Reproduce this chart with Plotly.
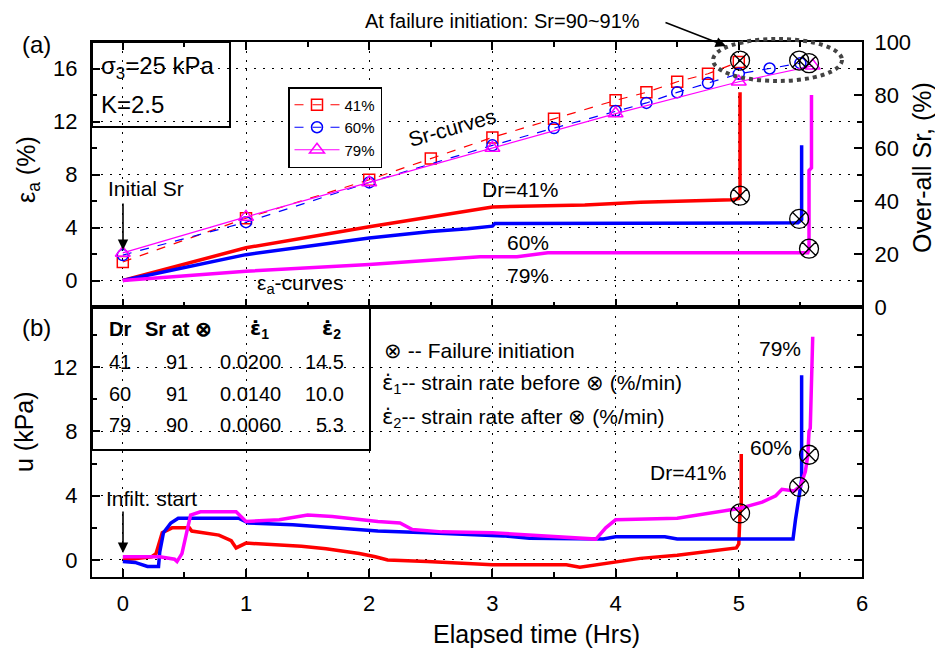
import plotly.graph_objects as go

# page body adds an 8px offset; lay out in screen pixels and compensate
OFF = 8
SW, SH = 943, 653
W, H = SW - OFF, SH - OFF
def px(x): return (x - OFF) / W
def py(y): return 1 - (y - OFF) / H

# ---------------- data ----------------
# Sr curves (right axis, %)
t_sr41 = [0, 1, 2, 2.5, 3, 3.5, 4, 4.25, 4.5, 4.75, 5.0]
sr41 = [17, 33.5, 48, 56, 64, 71, 78, 81, 85, 88, 92.5]
t_sr60 = [0, 1, 2, 3, 3.5, 4, 4.25, 4.5, 4.75, 5.0, 5.25, 5.5]
sr60 = [19.6, 32, 47, 61, 67.5, 74, 77, 81, 84.5, 88, 90, 92]
t_sr79 = [0, 1, 2, 3, 4, 5, 5.6]
sr79 = [20.4, 34, 47, 60, 73, 85, 91]

# axial strain curves (left axis, %)
t_ea41 = [0, 1, 2, 2.5, 2.82, 3.0, 3.75, 4.2, 4.95, 5.0, 5.01, 5.01]
ea41 = [0, 2.47, 4.05, 4.8, 5.3, 5.55, 5.7, 5.9, 6.1, 6.2, 6.4, 14.2]
t_ea60 = [0, 1, 2, 2.5, 2.8, 3.0, 3.02, 5.48, 5.51, 5.51]
ea60 = [0, 1.95, 3.2, 3.7, 3.9, 4.1, 4.3, 4.35, 4.6, 10.2]
t_ea79 = [0, 1, 2, 2.8, 2.9, 3.2, 3.45, 5.56, 5.57, 5.57, 5.59, 5.59]
ea79 = [0, 0.7, 1.2, 1.7, 1.8, 1.8, 2.1, 2.1, 2.4, 8.3, 8.5, 14.0]

# failure initiation points
fail_t = [5.01, 5.49, 5.57]
fail_sr = [93, 93, 92]
fail_ea = [6.4, 4.65, 2.4]
fail_u = [2.9, 4.55, 6.55]

# pore pressure u (kPa)
t_u41 = [0, 0.1, 0.235, 0.27, 0.29, 0.32, 0.4, 0.54, 0.56, 0.78, 0.88, 0.92, 1.0, 1.27,
         1.45, 1.65, 1.8, 1.92, 2.05, 2.15, 2.47, 2.8, 3.0, 3.3, 3.6, 3.71, 3.85, 4.0,
         4.2, 4.5, 4.75, 4.98, 5.0, 5.01, 5.02, 5.02]
u41 = [0.0, 0.1, 0.2, 0.4, 1.0, 1.7, 2.0, 2.0, 1.8, 1.55, 1.2, 0.75, 1.05, 0.95,
       0.85, 0.7, 0.55, 0.4, 0.2, 0.0, -0.1, -0.25, -0.3, -0.3, -0.3, -0.45, -0.3, -0.1,
       0.1, 0.3, 0.55, 0.75, 1.0, 2.9, 3.3, 6.6]
t_u60 = [0, 0.1, 0.2, 0.29, 0.3, 0.33, 0.39, 0.45, 0.94, 1.02, 1.38, 1.7, 2.07, 2.47,
         3.09, 3.3, 3.9, 4.0, 4.4, 4.5, 5.0, 5.44, 5.46, 5.49, 5.5, 5.51, 5.51]
u60 = [-0.1, -0.15, -0.4, -0.4, 0.5, 1.7, 2.3, 2.6, 2.6, 2.3, 2.2, 2.0, 1.8, 1.7,
       1.5, 1.35, 1.3, 1.45, 1.45, 1.3, 1.3, 1.3, 2.5, 4.0, 4.6, 5.0, 11.5]
t_u79 = [0, 0.3, 0.42, 0.44, 0.48, 0.52, 0.55, 0.63, 0.92, 1.0, 1.27, 1.5, 1.7, 2.07,
         2.25, 2.35, 2.59, 3.0, 3.5, 3.84, 3.92, 4.0, 4.5, 4.75, 5.0, 5.19, 5.3, 5.35,
         5.45, 5.5, 5.54, 5.56, 5.57, 5.58, 5.59, 5.6]
u79 = [0.2, 0.2, 0.05, -0.1, 0.4, 1.8, 2.8, 3.0, 3.0, 2.4, 2.5, 2.8, 2.7, 2.4,
       2.3, 1.9, 1.75, 1.7, 1.45, 1.3, 2.0, 2.5, 2.6, 2.9, 3.2, 3.6, 4.0, 4.4,
       4.3, 4.6, 5.5, 6.5, 8.0, 8.2, 12.3, 13.9]

series_names = ["41%", "60%", "79%"]
colors = ["#ff0000", "#0000ff", "#ff00ff"]

# table
tbl_dr = ["41", "60", "79"]
tbl_sr = ["91", "91", "90"]
tbl_e1 = ["0.0200", "0.0140", "0.0060"]
tbl_e2 = ["14.5", "10.0", "5.3"]

FONT = "Arial, Liberation Sans, sans-serif"
EDOT = '<span style="font-family:DejaVu Sans">ε̇</span>'

fig = go.Figure()

# Sr curves
fig.add_trace(go.Scatter(x=t_sr41, y=sr41, xaxis="x", yaxis="y2", name=series_names[0],
                         mode="lines+markers", line=dict(color=colors[0], width=1.2, dash="dash"),
                         marker=dict(symbol="square-open", size=11, color=colors[0], line=dict(width=1.5))))
fig.add_trace(go.Scatter(x=t_sr60, y=sr60, xaxis="x", yaxis="y2", name=series_names[1],
                         mode="lines+markers", line=dict(color=colors[1], width=1.2, dash="dash"),
                         marker=dict(symbol="circle-open", size=11, color=colors[1], line=dict(width=1.5))))
fig.add_trace(go.Scatter(x=t_sr79, y=sr79, xaxis="x", yaxis="y2", name=series_names[2],
                         mode="lines+markers", line=dict(color=colors[2], width=1.2),
                         marker=dict(symbol="triangle-up-open", size=13, color=colors[2], line=dict(width=1.5))))

# strain curves
for tt, yy, c in [(t_ea41, ea41, colors[0]), (t_ea60, ea60, colors[1]), (t_ea79, ea79, colors[2])]:
    fig.add_trace(go.Scatter(x=tt, y=yy, xaxis="x", yaxis="y", mode="lines", showlegend=False,
                             line=dict(color=c, width=3.5)))

# pore pressure curves
for tt, yy, c in [(t_u41, u41, colors[0]), (t_u60, u60, colors[1]), (t_u79, u79, colors[2])]:
    fig.add_trace(go.Scatter(x=tt, y=yy, xaxis="x2", yaxis="y3", mode="lines", showlegend=False,
                             line=dict(color=c, width=3.5)))

# failure markers
fmark = dict(symbol="circle-x-open", size=19, color="black", line=dict(width=1.3, color="black"))
fig.add_trace(go.Scatter(x=fail_t, y=fail_sr, xaxis="x", yaxis="y2", mode="markers", showlegend=False, marker=fmark))
fig.add_trace(go.Scatter(x=fail_t, y=fail_ea, xaxis="x", yaxis="y", mode="markers", showlegend=False, marker=fmark))
fig.add_trace(go.Scatter(x=fail_t, y=fail_u, xaxis="x2", yaxis="y3", mode="markers", showlegend=False, marker=fmark))

dom_x = [px(92), px(862)]
grid = dict(showgrid=True, gridcolor="black", gridwidth=1, griddash="2px,7px")
tickfont = dict(family=FONT, size=22, color="black")
common = dict(showline=True, linecolor="black", linewidth=2, ticks="inside", ticklen=8,
              tickcolor="black", tickwidth=1.5, zeroline=False, tickfont=tickfont,
              automargin=False)
minor_x = dict(dtick=0.5, ticks="inside", ticklen=5, tickcolor="black", showgrid=False)

fig.update_layout(
    template="none",
    width=W, height=H, autosize=False,
    margin=dict(l=0, r=0, t=0, b=0, pad=0),
    paper_bgcolor="white", plot_bgcolor="white",
    font=dict(family=FONT, color="black"),
    xaxis=dict(domain=dom_x, range=[-0.25, 6], anchor="y", tick0=0, dtick=1, showticklabels=False,
               mirror="ticks", minor=minor_x, **grid, **common),
    yaxis=dict(domain=[py(307), py(42)], range=[-2, 18], anchor="x", tick0=0, dtick=4,
               minor=dict(dtick=2, ticks="inside", ticklen=5, tickcolor="black"),
               ticklabelstandoff=8, **grid, **common),
    yaxis2=dict(overlaying="y", side="right", anchor="x", range=[0, 100], tick0=0, dtick=20,
                minor=dict(dtick=10, ticks="inside", ticklen=5, tickcolor="black"),
                showgrid=False, ticklabelstandoff=6, **common),
    xaxis2=dict(domain=dom_x, range=[-0.25, 6], anchor="y3", tick0=0, dtick=1,
                mirror=True, minor=minor_x, ticklabelstandoff=6, **grid, **common),
    yaxis3=dict(domain=[py(577), py(307)], range=[-1.06, 15.75], anchor="x2", tick0=0, dtick=4,
                minor=dict(dtick=2, ticks="inside", ticklen=5, tickcolor="black"),
                mirror="ticks", ticklabelstandoff=8, **grid, **common),
    legend=dict(x=px(288), y=py(87), xanchor="left", yanchor="top", bgcolor="white",
                bordercolor="black", borderwidth=1.5, font=dict(family=FONT, size=15, color="black"),
                itemwidth=45, tracegroupgap=0),
)

shapes = [
    # sigma box
    dict(type="rect", xref="paper", yref="paper", x0=px(92), x1=px(230), y0=py(127), y1=py(42),
         line=dict(color="black", width=2), fillcolor="white", layer="between"),
    # table box
    dict(type="rect", xref="paper", yref="paper", x0=px(92), x1=px(370), y0=py(450), y1=py(308),
         line=dict(color="black", width=2), fillcolor="white", layer="between"),
    # failure ellipse
    dict(type="circle", xref="paper", yref="paper", x0=px(713), x1=px(842), y0=py(81), y1=py(39),
         line=dict(color="#444444", width=4, dash="dot"), layer="above"),
]

ann = []
def txt(x, y, s, size=21, xanchor="left", angle=0):
    ann.append(dict(x=px(x), y=py(y), xref="paper", yref="paper", text=s, showarrow=False,
                    xanchor=xanchor, yanchor="middle", textangle=angle,
                    font=dict(family=FONT, size=size, color="black")))

txt(20, 44, "(a)", 24)
txt(20, 327, "(b)", 24)
txt(99, 68, "σ<sub>3</sub>=25 kPa", 24)
txt(99, 104, "K=2.5", 24)
txt(452, 127, "Sr-curves", 21, "center", -16)
txt(106, 188, "Initial Sr", 21)
txt(255, 284, "ε<sub>a</sub>-curves", 21)
txt(480, 190, "Dr=41%", 21)
txt(505, 242, "60%", 21)
txt(505, 275, "79%", 21)
txt(363, 21, "At failure initiation: Sr=90~91%", 20)
txt(104, 498, "Infilt. start", 21)
txt(757, 348, "79%", 21)
txt(748, 447, "60%", 21)
txt(648, 473, "Dr=41%", 21)
txt(382, 350, "⊗ -- Failure initiation", 21)
txt(380, 384, EDOT + "<sub>1</sub>-- strain rate before ⊗ (%/min)", 21)
txt(380, 418, EDOT + "<sub>2</sub>-- strain rate after ⊗ (%/min)", 21)

# table
txt(107, 329, "<b>Dr</b>", 20)
txt(143, 329, "<b>Sr at ⊗</b>", 20)
txt(259, 329, "<b>" + EDOT + "<sub>1</sub></b>", 20, "center")
txt(331, 329, "<b>" + EDOT + "<sub>2</sub></b>", 20, "center")
for i in range(3):
    yy = 362 + i * 31.5
    txt(107, yy, tbl_dr[i], 20)
    txt(177, yy, tbl_sr[i], 20, "center")
    txt(250, yy, tbl_e1[i], 20, "center")
    txt(346, yy, tbl_e2[i], 20, "right")

# axis titles
txt(28, 170, "ε<sub>a</sub> (%)", 25, "center", -90)
txt(24, 432, "u (kPa)", 25, "center", -90)
txt(922, 168, "Over-all Sr, (%)", 25, "center", -90)
txt(536, 634, "Elapsed time (Hrs)", 25, "center")

# arrows
def arrow(x, y, ax, ay):
    ann.append(dict(x=px(x), y=py(y), xref="paper", yref="paper", text="", showarrow=True,
                    ax=ax - x, ay=ay - y, arrowhead=2, arrowsize=1.3, arrowwidth=1.6,
                    arrowcolor="black"))

arrow(123, 250, 123, 202)
arrow(123, 553, 123, 510)
arrow(726, 46, 664, 22)

fig.update_layout(shapes=shapes, annotations=ann)
fig.write_html("out.html")
